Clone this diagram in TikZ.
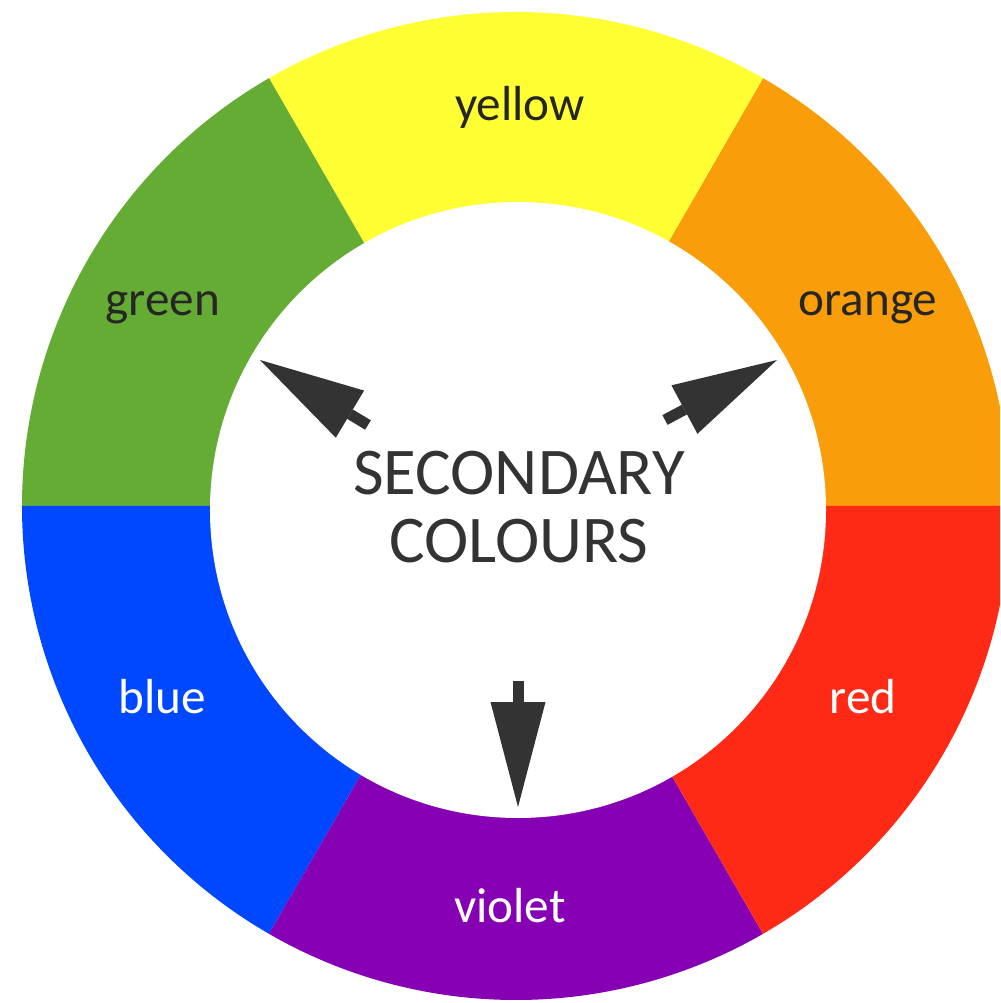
\documentclass[tikz,border=0pt]{standalone}
\usepackage{fontspec}
\setmainfont{Carlito}
\usepackage{xcolor}
\usepackage{tikz}
\usetikzlibrary{arrows.meta}
\definecolor{cyel}{HTML}{FFFF33}
\definecolor{corg}{HTML}{F99D0A}
\definecolor{cred}{HTML}{FF2A16}
\definecolor{cvio}{HTML}{8600B4}
\definecolor{cblu}{HTML}{0048FF}
\definecolor{cgrn}{HTML}{64AC34}
\definecolor{cink}{HTML}{333333}
\definecolor{cdark}{HTML}{262626}
\tikzset{
  lbl/.style={anchor=base, inner sep=0pt, font=\fontsize{28}{34}\selectfont, text=cdark},
  lbw/.style={lbl, text=white},
  hd/.style={align=center, inner sep=0pt, text=cink, font=\fontsize{38}{38.5}\selectfont},
  ptr/.style={draw=cink, line width=2.2mm, -{Triangle[length=21mm, width=11mm, line width=0pt]}},
}

\begin{document}
\begin{tikzpicture}[x=0.2mm, y=0.2mm]
  \useasboundingbox (-516,-497) rectangle (484,506);
  \clip (-516,-497) rectangle (484,506);
  \fill[white] (-516,-497) rectangle (484,506);
  % wheel
  \fill[corg] (0,0) -- (0:494) arc[start angle=0, end angle=60, radius=494] -- cycle;
  \fill[cyel] (0,0) -- (60:494) arc[start angle=60, end angle=120, radius=494] -- cycle;
  \fill[cgrn] (0,0) -- (120:494) arc[start angle=120, end angle=180, radius=494] -- cycle;
  \fill[cblu] (0,0) -- (180:494) arc[start angle=180, end angle=240, radius=494] -- cycle;
  \fill[cvio] (0,0) -- (240:494) arc[start angle=240, end angle=300, radius=494] -- cycle;
  \fill[cred] (0,0) -- (300:494) arc[start angle=300, end angle=360, radius=494] -- cycle;
  \fill[white] (2,-4) circle[radius=308];
  % labels
  \node[lbl] (yel) at (4,385) {yellow};
  \node[lbl] (grn) at (-353,190) {green};
  \node[lbl] (org) at (352,190) {orange};
  \node[lbw] (blu) at (-354,-207) {blue};
  \node[lbw] (red) at (347,-207) {red};
  \node[lbw] (vio) at (-6,-416) {violet};
  \node[hd] (sec) at (3,-1) {SECONDARY\\COLOURS};
  % pointers
  \coordinate (gt) at (-148,81);
  \coordinate (gh) at (-256,146);
  \coordinate (ot) at (149,86);
  \coordinate (oh) at (261,146);
  \coordinate (vt) at (2,-175);
  \coordinate (vh) at (2,-301);
  \draw[ptr] (gt) -- (gh);
  \draw[ptr] (ot) -- (oh);
  \draw[ptr] (vt) -- (vh);
\end{tikzpicture}
\end{document}
